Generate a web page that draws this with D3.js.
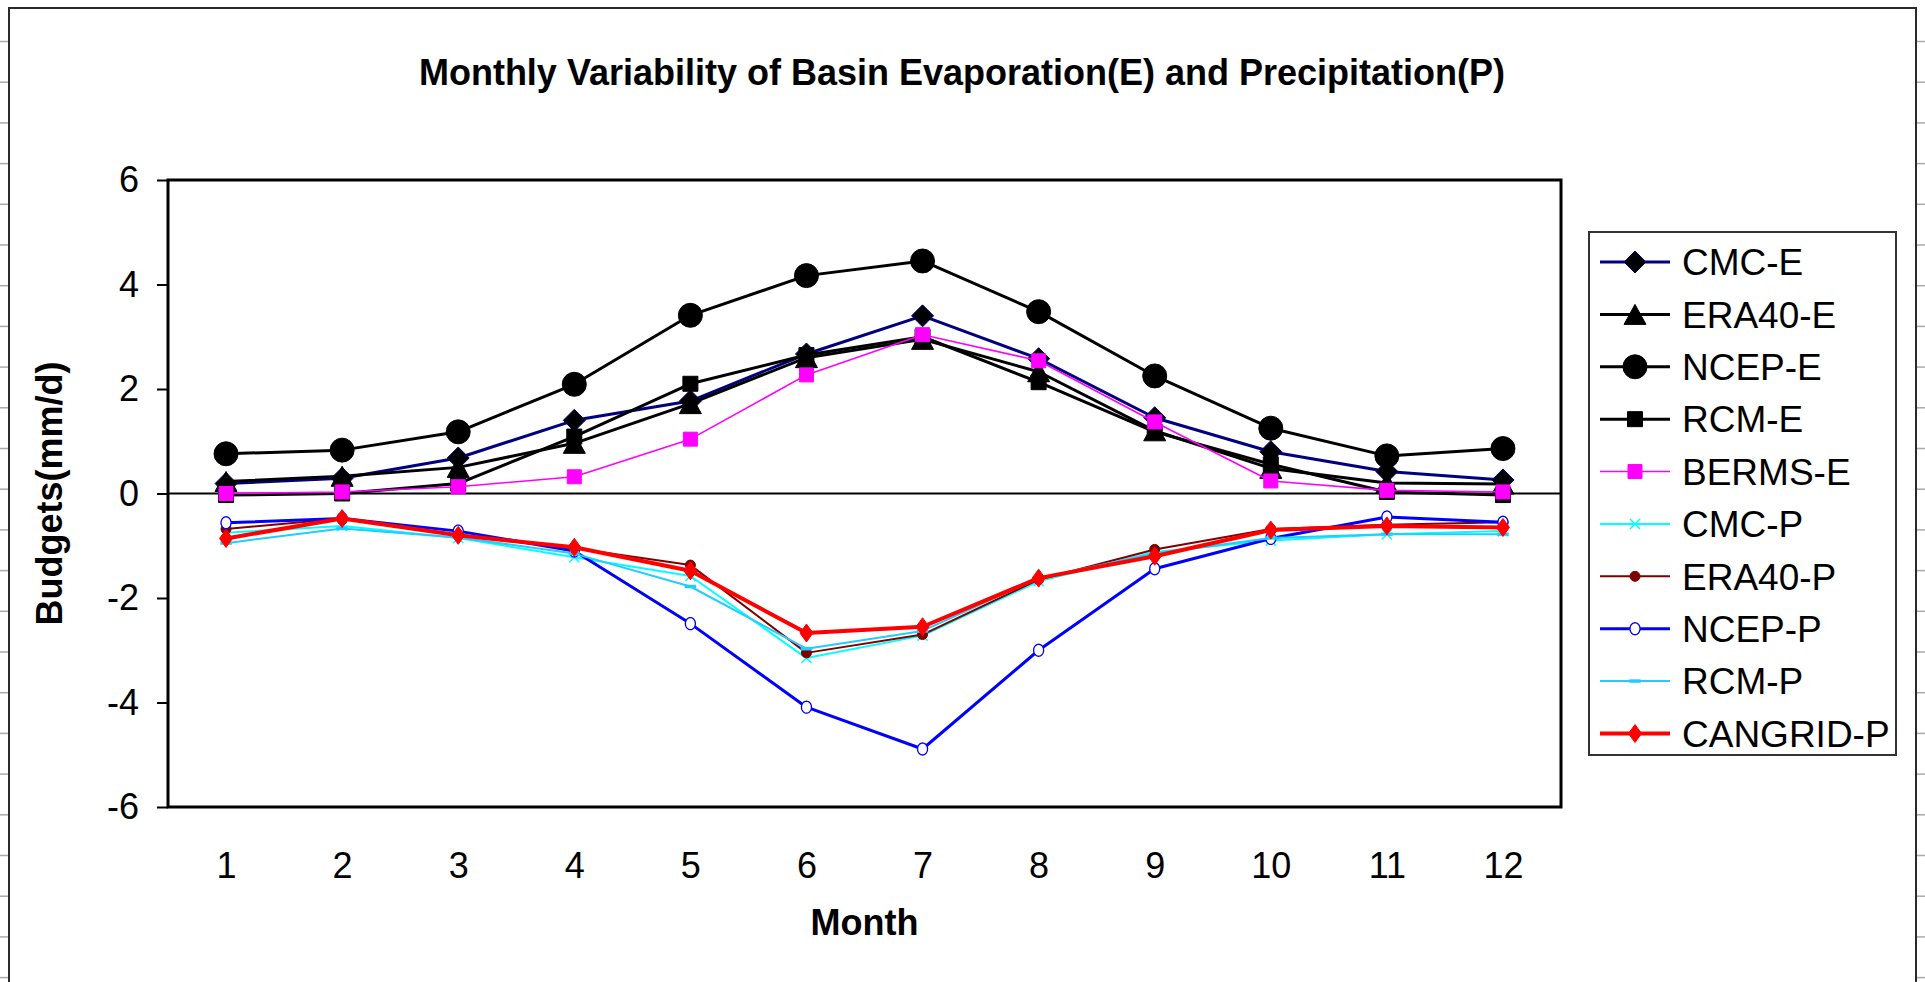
<!DOCTYPE html>
<html><head><meta charset="utf-8">
<script src="https://cdn.jsdelivr.net/npm/d3@7"></script>
<style>
body{margin:0;background:#fff}
svg{display:block}
text{font-family:"Liberation Sans",Arial,sans-serif;fill:#000}
</style>
</head><body>
<svg id="chart" width="1925" height="982"></svg>
<script>
// ---------------- data ----------------
const months = [1,2,3,4,5,6,7,8,9,10,11,12];
const yTicks = [-6,-4,-2,0,2,4,6];
const titleText = "Monthly Variability of Basin Evaporation(E) and Precipitation(P)";
const xTitle = "Month";
const yTitle = "Budgets(mm/d)";

const seriesNames = ["CMC-E","ERA40-E","NCEP-E","RCM-E","BERMS-E","CMC-P","ERA40-P","NCEP-P","RCM-P","CANGRID-P"];
const cmcE     = [0.19, 0.29, 0.68, 1.40, 1.77, 2.67, 3.40, 2.58, 1.45, 0.80, 0.42, 0.26];
const era40E   = [0.23, 0.33, 0.50, 0.96, 1.72, 2.60, 2.95, 2.33, 1.20, 0.48, 0.20, 0.18];
const ncepE    = [0.76, 0.83, 1.18, 2.09, 3.41, 4.17, 4.45, 3.48, 2.25, 1.25, 0.72, 0.86];
const rcmE     = [-0.03, 0.00, 0.19, 1.09, 2.10, 2.65, 3.00, 2.13, 1.18, 0.56, 0.03, -0.03];
const bermsE   = [0.00, 0.03, 0.13, 0.32, 1.04, 2.27, 3.04, 2.54, 1.37, 0.24, 0.06, 0.03];
const cmcP     = [-0.75, -0.62, -0.85, -1.22, -1.58, -3.15, -2.72, -1.68, -1.12, -0.90, -0.78, -0.72];
const era40P   = [-0.68, -0.48, -0.80, -1.05, -1.37, -3.05, -2.70, -1.65, -1.07, -0.68, -0.60, -0.55];
const ncepP    = [-0.56, -0.48, -0.72, -1.10, -2.49, -4.09, -4.89, -3.00, -1.44, -0.86, -0.45, -0.55];
const rcmP     = [-0.95, -0.67, -0.84, -1.15, -1.78, -2.97, -2.63, -1.62, -1.15, -0.85, -0.78, -0.78];
const cangridP = [-0.86, -0.48, -0.80, -1.03, -1.48, -2.67, -2.55, -1.62, -1.20, -0.70, -0.62, -0.65];

// ---------------- styles ----------------
const seriesValues = [cmcE, era40E, ncepE, rcmE, bermsE, cmcP, era40P, ncepP, rcmP, cangridP];
const styles = [
  {line:"#000080", lw:3,   marker:"diamond",  mw:22, mh:22, fill:"#000",    stroke:"#000080", sw:1},
  {line:"#000",    lw:3,   marker:"triangle", mw:22, mh:20, fill:"#000",    stroke:"#000",    sw:1},
  {line:"#000",    lw:3,   marker:"circle",   mw:24, mh:24, fill:"#000",    stroke:"#000",    sw:1},
  {line:"#000",    lw:3,   marker:"square",   mw:15, mh:15, fill:"#000",    stroke:"#000",    sw:1},
  {line:"#FF00FF", lw:1.6, marker:"square",   mw:14, mh:14, fill:"#FF00FF", stroke:"#FF00FF", sw:1},
  {line:"#00FFFF", lw:2,   marker:"x",        mw:10, mh:10, fill:"none",    stroke:"#00FFFF", sw:1.5},
  {line:"#800000", lw:2,   marker:"circle",   mw:10, mh:10, fill:"#800000", stroke:"#800000", sw:1},
  {line:"#0000FF", lw:3,   marker:"ocircle",  mw:10, mh:12, fill:"#fff",    stroke:"#0000FF", sw:1.3},
  {line:"#22CCFF", lw:2,   marker:"dash",     mw:11, mh:3,  fill:"#22CCFF", stroke:"#22CCFF", sw:0.5},
  {line:"#FF0000", lw:4,   marker:"diamond",  mw:13, mh:18, fill:"#FF0000", stroke:"#FF0000", sw:1}
];
const series = seriesNames.map((n,i)=>({name:n, values:seriesValues[i], ...styles[i]}));

// ---------------- layout ----------------
const svg = d3.select("#chart");
const plot = {left:168, right:1561, top:180, bottom:807};

const x = d3.scalePoint().domain(months).range([plot.left, plot.right]).padding(0.5);
const y = d3.scaleLinear().domain([-6, 6]).range([plot.bottom, plot.top]);

// outer chart-area border and edge marks
const edge = svg.append("g");
edge.append("path").attr("d","M9,982 L9,8 L1916,8 L1916,982")
  .attr("fill","none").attr("stroke","#2a2a2a").attr("stroke-width",2);
const markYs = d3.range(24).map(k => 41.5 + 40.7*k);
edge.selectAll(".lm").data(markYs).join("line")
  .attr("x1",0).attr("x2",8).attr("y1",d=>d).attr("y2",d=>d)
  .attr("stroke","#aaa").attr("stroke-width",1.5);
edge.selectAll(".rm").data(markYs).join("line")
  .attr("x1",1917).attr("x2",1925).attr("y1",d=>d).attr("y2",d=>d)
  .attr("stroke","#aaa").attr("stroke-width",1.5);

// title
svg.append("text").attr("x",962).attr("y",85).attr("text-anchor","middle")
  .attr("font-size",36).attr("font-weight","bold").text(titleText);

// zero line
svg.append("line").attr("x1",plot.left).attr("x2",plot.right)
  .attr("y1",y(0)).attr("y2",y(0)).attr("stroke","#000").attr("stroke-width",1.8);

// y axis
const yAxis = svg.append("g").attr("transform",`translate(${plot.left},0)`)
  .call(d3.axisLeft(y).tickValues(yTicks).tickSize(11).tickPadding(18).tickFormat(d=>String(d)));
yAxis.select(".domain").remove();
yAxis.selectAll("line").attr("stroke","#000").attr("stroke-width",2);
yAxis.selectAll("text").attr("font-size",36).attr("font-family","Liberation Sans, Arial, sans-serif");

// x axis
const xAxis = svg.append("g").attr("transform",`translate(0,${plot.bottom})`)
  .call(d3.axisBottom(x).tickSize(0).tickPadding(45));
xAxis.select(".domain").remove();
xAxis.selectAll("text").attr("font-size",36).attr("font-family","Liberation Sans, Arial, sans-serif");

// axis titles
svg.append("text").attr("x",(plot.left+plot.right)/2).attr("y",935).attr("text-anchor","middle")
  .attr("font-size",36).attr("font-weight","bold").text(xTitle);
svg.append("text").attr("transform",`translate(62,${(plot.top+plot.bottom)/2}) rotate(-90)`)
  .attr("text-anchor","middle").attr("font-size",36).attr("font-weight","bold").text(yTitle);

// marker path
function markerPath(type, w, h){
  const p = d3.path(), a = w/2, b = h/2;
  if(type==="diamond"){ p.moveTo(0,-b); p.lineTo(a,0); p.lineTo(0,b); p.lineTo(-a,0); p.closePath(); }
  else if(type==="triangle"){ p.moveTo(0,-b); p.lineTo(a,b); p.lineTo(-a,b); p.closePath(); }
  else if(type==="square" || type==="dash"){ p.rect(-a,-b,w,h); }
  else if(type==="x"){ p.moveTo(-a,-b); p.lineTo(a,b); p.moveTo(a,-b); p.lineTo(-a,b); }
  else if(type==="circle"){ p.arc(0,0,a,0,2*Math.PI); p.closePath(); }
  else if(type==="ocircle"){
    const n=40; for(let i=0;i<=n;i++){const t=2*Math.PI*i/n; const px=a*Math.cos(t), py=b*Math.sin(t); if(i===0)p.moveTo(px,py); else p.lineTo(px,py);} p.closePath();
  }
  return p.toString();
}

// series
const line = d3.line().x((d,i)=>x(months[i])).y(d=>y(d));
const gS = svg.append("g");
series.forEach(s=>{
  const g = gS.append("g");
  g.append("path").attr("d",line(s.values)).attr("fill","none")
    .attr("stroke",s.line).attr("stroke-width",s.lw).attr("stroke-linejoin","round");
  g.selectAll("path.m").data(s.values).join("path").attr("class","m")
    .attr("transform",(d,i)=>`translate(${x(months[i])},${y(d)})`)
    .attr("d",markerPath(s.marker,s.mw,s.mh))
    .attr("fill",s.fill).attr("stroke",s.stroke).attr("stroke-width",s.sw);
});

// plot border
svg.append("rect").attr("x",plot.left).attr("y",plot.top)
  .attr("width",plot.right-plot.left).attr("height",plot.bottom-plot.top)
  .attr("fill","none").attr("stroke","#000").attr("stroke-width",3);

// legend
const legend = svg.append("g");
legend.append("rect").attr("x",1589).attr("y",232).attr("width",307).attr("height",523)
  .attr("fill","#fff").attr("stroke","#333").attr("stroke-width",2);
const ly = d3.scalePoint().domain(seriesNames).range([262, 733.5]);
series.forEach(s=>{
  const g = legend.append("g").attr("transform",`translate(0,${ly(s.name)})`);
  g.append("line").attr("x1",1600).attr("x2",1670).attr("y1",0).attr("y2",0)
    .attr("stroke",s.line).attr("stroke-width",s.lw);
  g.append("path").attr("transform","translate(1635,0)").attr("d",markerPath(s.marker,s.mw,s.mh))
    .attr("fill",s.fill).attr("stroke",s.stroke).attr("stroke-width",s.sw);
  g.append("text").attr("x",1682).attr("y",0).attr("dy","0.36em")
    .attr("font-size",37).text(s.name);
});
</script>
</body></html>
